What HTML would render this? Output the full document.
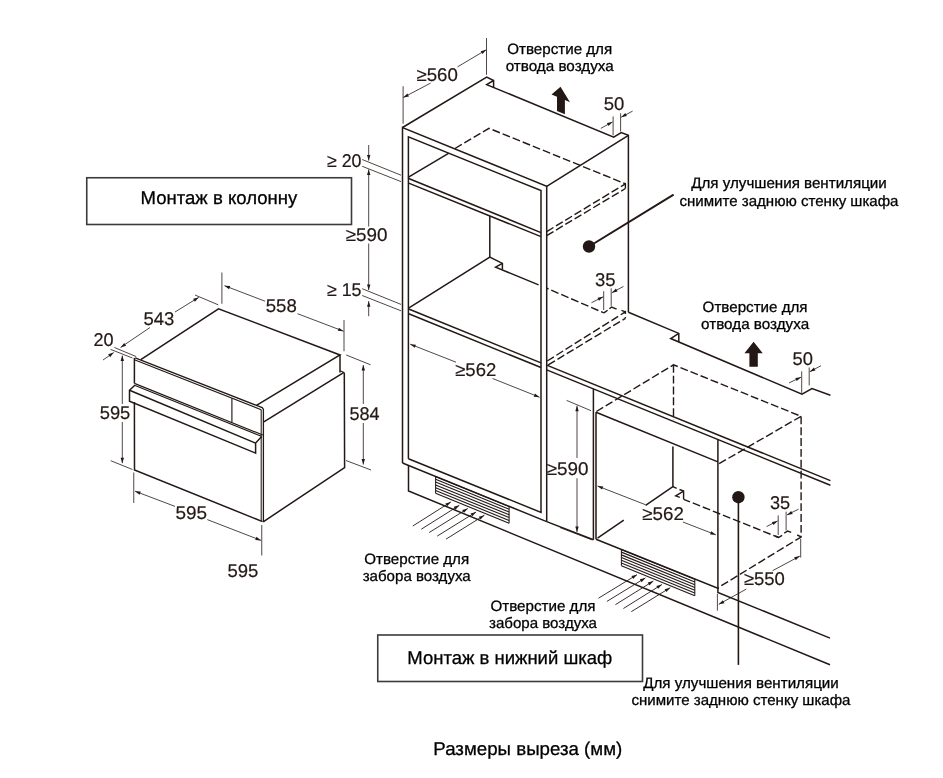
<!DOCTYPE html>
<html lang="ru"><head><meta charset="utf-8"><title>Размеры выреза (мм)</title>
<style>
html,body{margin:0;padding:0;background:#fff}
svg{display:block;will-change:transform}
text{text-rendering:geometricPrecision}
.m{fill:none;stroke:#231815;stroke-width:1.5;stroke-linecap:butt;stroke-linejoin:miter}
.m2{fill:none;stroke:#231815;stroke-width:1.3;stroke-linejoin:round}
.m3{fill:none;stroke:#231815;stroke-width:1.15}
.k{fill:none;stroke:#231815;stroke-width:2.2}
.g{fill:none;stroke:#231815;stroke-width:1.05}
.t{fill:none;stroke:#231815;stroke-width:0.8}
.t2{fill:none;stroke:#231815;stroke-width:0.9}
.g2{fill:none;stroke:#231815;stroke-width:1.1}
.d{fill:none;stroke:#231815;stroke-width:1.4;stroke-dasharray:7.9 2.95}
.d2{fill:none;stroke:#231815;stroke-width:1.4}
.h{fill:#231815;stroke:none}
.b{fill:#fff;stroke:#3e3a39;stroke-width:1.6}
text{font-family:"Liberation Sans",sans-serif}
.n{fill:#231815;stroke:#231815;stroke-width:0.2}
.r{fill:#000;stroke:#000;stroke-width:0.28}
</style></head><body>
<svg width="943" height="778" viewBox="0 0 943 778">
<rect width="943" height="778" fill="#fff"/>
<rect class="b" x="86.75" y="177.75" width="264.75" height="46.75"/>
<rect class="b" x="377.75" y="635" width="264.75" height="46.5"/>
<text class="r" x="140.5" y="204.0" font-size="18.5" text-anchor="start" textLength="156.8" lengthAdjust="spacingAndGlyphs">Монтаж в колонну</text>
<text class="r" x="407.3" y="663.8" font-size="18.5" text-anchor="start" textLength="205.0" lengthAdjust="spacingAndGlyphs">Монтаж в нижний шкаф</text>
<text class="r" x="433.3" y="754.5" font-size="18.5" text-anchor="start" textLength="189.0" lengthAdjust="spacingAndGlyphs">Размеры выреза (мм)</text>
<text class="r" x="559.7" y="53.8" font-size="15" text-anchor="middle" textLength="105.0" lengthAdjust="spacingAndGlyphs">Отверстие для</text>
<text class="r" x="559.7" y="71.4" font-size="15" text-anchor="middle" textLength="108.0" lengthAdjust="spacingAndGlyphs">отвода воздуха</text>
<text class="r" x="755.1" y="312.3" font-size="15" text-anchor="middle" textLength="105.0" lengthAdjust="spacingAndGlyphs">Отверстие для</text>
<text class="r" x="755.1" y="329.0" font-size="15" text-anchor="middle" textLength="108.0" lengthAdjust="spacingAndGlyphs">отвода воздуха</text>
<text class="r" x="416.7" y="563.8" font-size="15" text-anchor="middle" textLength="105.0" lengthAdjust="spacingAndGlyphs">Отверстие для</text>
<text class="r" x="416.7" y="580.6" font-size="15" text-anchor="middle" textLength="108.0" lengthAdjust="spacingAndGlyphs">забора воздуха</text>
<text class="r" x="543.0" y="611.1" font-size="15" text-anchor="middle" textLength="105.0" lengthAdjust="spacingAndGlyphs">Отверстие для</text>
<text class="r" x="543.0" y="628.3" font-size="15" text-anchor="middle" textLength="108.0" lengthAdjust="spacingAndGlyphs">забора воздуха</text>
<text class="r" x="789.0" y="188.0" font-size="15" text-anchor="middle" textLength="195.5" lengthAdjust="spacingAndGlyphs">Для улучшения вентиляции</text>
<text class="r" x="789.0" y="205.5" font-size="15" text-anchor="middle" textLength="219.0" lengthAdjust="spacingAndGlyphs">снимите заднюю стенку шкафа</text>
<text class="r" x="741.0" y="688.3" font-size="15" text-anchor="middle" textLength="195.5" lengthAdjust="spacingAndGlyphs">Для улучшения вентиляции</text>
<text class="r" x="741.0" y="704.5" font-size="15" text-anchor="middle" textLength="219.0" lengthAdjust="spacingAndGlyphs">снимите заднюю стенку шкафа</text>
<path class="m2" d="M135.20 357.80 L256.50 405.40 L262.30 407.70 L263.40 409.30 L263.40 522.00"/>
<path class="m3" d="M134.40 359.70 L261.20 409.70"/>
<path class="m" d="M134.40 357.90 L134.40 383.40"/>
<path class="m" d="M134.40 402.00 L134.50 470.00 L262.50 521.60"/>
<path class="g" d="M261.20 409.70 L261.20 521.00"/>
<path class="m3" d="M134.40 383.40 L262.80 435.00"/>
<path class="m3" d="M135.10 385.50 L261.50 436.30"/>
<path class="m3" d="M231.90 398.20 L231.90 422.40"/>
<path class="m" d="M135.10 385.00 L129.50 390.30 L129.50 401.30 L255.60 453.10 L255.60 443.10 L261.70 436.40"/>
<path class="m" d="M129.50 390.30 L255.60 443.10"/>
<path class="m" d="M140.80 359.60 L218.50 308.80 L340.00 355.00 L256.50 405.40"/>
<path class="m" d="M340.00 355.00 L340.00 372.40"/>
<path class="g" d="M340.00 370.80 L344.00 372.60"/>
<path class="m" d="M344.00 372.40 L263.80 421.90"/>
<path class="m" d="M344.30 372.40 L344.60 467.50 L263.20 521.80"/>
<path class="t" d="M150.00 327.50 L120.60 347.40"/>
<path class="h" d="M120.60 347.40 L124.20 342.91 L126.11 345.72Z"/>
<path class="t" d="M175.00 312.00 L198.70 297.40"/>
<path class="h" d="M198.70 297.40 L194.91 301.73 L193.13 298.84Z"/>
<path class="t" d="M195.00 295.00 L218.20 304.80"/>
<path class="t" d="M110.60 349.40 L132.50 358.00"/>
<path class="t" d="M114.40 347.50 L136.20 356.60"/>
<path class="t" d="M103.00 360.00 L113.70 352.60"/>
<path class="h" d="M113.70 352.60 L110.14 357.13 L108.21 354.33Z"/>
<path class="t" d="M221.90 272.50 L221.90 303.80"/>
<path class="t" d="M265.00 301.20 L224.50 285.70"/>
<path class="h" d="M224.50 285.70 L230.24 286.08 L229.03 289.25Z"/>
<path class="t" d="M297.50 313.70 L343.50 331.20"/>
<path class="h" d="M343.50 331.20 L337.75 330.83 L338.96 327.66Z"/>
<path class="t" d="M344.00 320.00 L344.00 351.20"/>
<path class="t" d="M122.30 404.00 L122.30 355.60"/>
<path class="h" d="M122.30 355.60 L124.00 361.10 L120.60 361.10Z"/>
<path class="t" d="M122.30 422.00 L122.30 463.20"/>
<path class="h" d="M122.30 463.20 L120.60 457.70 L124.00 457.70Z"/>
<path class="t" d="M110.70 460.70 L132.50 469.50"/>
<path class="t" d="M133.75 472.50 L133.75 503.00"/>
<path class="t" d="M261.75 525.00 L261.75 555.50"/>
<path class="t" d="M175.00 506.40 L135.00 491.20"/>
<path class="h" d="M135.00 491.20 L140.75 491.56 L139.54 494.74Z"/>
<path class="t" d="M207.30 519.60 L261.00 540.40"/>
<path class="h" d="M261.00 540.40 L255.26 540.00 L256.49 536.83Z"/>
<path class="t" d="M363.30 404.00 L363.30 365.00"/>
<path class="h" d="M363.30 365.00 L365.00 370.50 L361.60 370.50Z"/>
<path class="t" d="M363.30 423.00 L363.30 464.50"/>
<path class="h" d="M363.30 464.50 L361.60 459.00 L365.00 459.00Z"/>
<path class="t" d="M346.20 355.00 L370.60 364.80"/>
<path class="t" d="M346.00 460.50 L371.00 470.00"/>
<text class="n" x="143.4" y="325.0" font-size="18.5" text-anchor="start" textLength="30.9" lengthAdjust="spacingAndGlyphs">543</text>
<text class="n" x="93.4" y="345.5" font-size="18.5" text-anchor="start" textLength="20.1" lengthAdjust="spacingAndGlyphs">20</text>
<text class="n" x="265.7" y="311.7" font-size="18.5" text-anchor="start" textLength="31.1" lengthAdjust="spacingAndGlyphs">558</text>
<text class="n" x="99.7" y="419.2" font-size="18.5" text-anchor="start" textLength="30.6" lengthAdjust="spacingAndGlyphs">595</text>
<text class="n" x="175.4" y="518.8" font-size="18.5" text-anchor="start" textLength="31.6" lengthAdjust="spacingAndGlyphs">595</text>
<text class="n" x="227.4" y="576.7" font-size="18.5" text-anchor="start" textLength="30.9" lengthAdjust="spacingAndGlyphs">595</text>
<text class="n" x="349.4" y="419.9" font-size="18.5" text-anchor="start" textLength="30.1" lengthAdjust="spacingAndGlyphs">584</text>
<path class="m" d="M402.50 463.00 L402.50 127.50 L546.70 186.30 L546.70 521.60"/>
<path class="m" d="M402.50 463.00 L546.70 521.60"/>
<path class="m" d="M408.40 458.70 L408.40 136.90 L541.00 190.60 L541.00 512.40 L408.40 458.70"/>
<path class="m" d="M402.50 127.50 L486.70 77.00 L493.60 80.50 L493.60 87.40"/>
<path class="m" d="M493.60 80.50 L486.70 84.60 L613.70 137.20 L621.20 132.50 L628.40 135.30 L628.40 312.20"/>
<path class="m" d="M546.70 186.30 L628.40 135.30"/>
<path class="m" d="M408.10 178.20 L541.00 232.60"/>
<path class="m" d="M408.10 182.90 L541.00 236.60"/>
<path class="m" d="M408.10 177.40 L448.50 153.40"/>
<path class="m" d="M489.80 215.90 L489.80 257.20"/>
<path class="m" d="M408.60 308.20 L489.80 257.20 L502.40 263.40 L502.40 269.60"/>
<path class="m" d="M502.40 263.40 L495.60 267.20 L538.60 284.90"/>
<path class="m" d="M408.10 308.80 L541.00 362.86"/>
<path class="m" d="M408.10 313.50 L541.00 367.56"/>
<path class="m" d="M546.70 365.18 L830.40 480.59"/>
<path class="m" d="M546.70 369.88 L830.40 485.29"/>
<path class="m" d="M408.50 465.40 L408.50 490.90 L830.00 664.80"/>
<path class="g2" d="M435.60 476.50 L509.10 506.40"/>
<path class="g2" d="M435.60 479.30 L509.10 509.20"/>
<path class="g2" d="M435.60 482.10 L509.10 512.00"/>
<path class="g2" d="M435.60 484.90 L509.10 514.80"/>
<path class="g2" d="M435.60 487.70 L509.10 517.60"/>
<path class="g2" d="M435.60 490.50 L509.10 520.40"/>
<path class="g2" d="M435.60 493.30 L509.10 523.20"/>
<path class="g" d="M435.60 476.50 L435.60 493.30"/>
<path class="g" d="M509.10 506.40 L509.10 523.20"/>
<path class="g2" d="M621.40 549.40 L694.80 579.26"/>
<path class="g2" d="M621.40 552.13 L694.80 581.99"/>
<path class="g2" d="M621.40 554.87 L694.80 584.73"/>
<path class="g2" d="M621.40 557.60 L694.80 587.46"/>
<path class="g2" d="M621.40 560.33 L694.80 590.19"/>
<path class="g2" d="M621.40 563.07 L694.80 592.93"/>
<path class="g2" d="M621.40 565.80 L694.80 595.66"/>
<path class="g" d="M621.40 549.40 L621.40 565.80"/>
<path class="g" d="M694.80 579.26 L694.80 595.66"/>
<path class="t2" d="M412.80 526.00 L450.90 501.90"/>
<path class="h" d="M450.90 501.90 L447.16 506.28 L445.34 503.40Z"/>
<path class="t2" d="M421.30 529.20 L459.30 505.30"/>
<path class="h" d="M459.30 505.30 L455.55 509.67 L453.74 506.79Z"/>
<path class="t2" d="M429.20 532.50 L467.80 508.50"/>
<path class="h" d="M467.80 508.50 L464.03 512.85 L462.23 509.96Z"/>
<path class="t2" d="M437.20 536.10 L476.10 512.00"/>
<path class="h" d="M476.10 512.00 L472.32 516.34 L470.53 513.45Z"/>
<path class="t2" d="M446.10 539.10 L484.40 515.20"/>
<path class="h" d="M484.40 515.20 L480.63 519.55 L478.83 516.67Z"/>
<path class="t2" d="M598.50 598.20 L637.00 574.70"/>
<path class="h" d="M637.00 574.70 L633.19 579.02 L631.42 576.11Z"/>
<path class="t2" d="M606.90 601.40 L645.40 577.90"/>
<path class="h" d="M645.40 577.90 L641.59 582.22 L639.82 579.31Z"/>
<path class="t2" d="M615.40 604.70 L653.30 581.10"/>
<path class="h" d="M653.30 581.10 L649.53 585.45 L647.73 582.56Z"/>
<path class="t2" d="M623.40 608.50 L661.90 584.50"/>
<path class="h" d="M661.90 584.50 L658.13 588.85 L656.33 585.97Z"/>
<path class="t2" d="M631.30 611.70 L670.20 587.70"/>
<path class="h" d="M670.20 587.70 L666.41 592.03 L664.63 589.14Z"/>
<path class="d" d="M455.00 148.50 L489.00 128.30 L625.40 183.80 L625.40 188.50"/>
<path class="d" d="M546.70 231.60 L625.40 183.80"/>
<path class="d" d="M546.70 235.60 L625.40 188.50"/>
<path class="d" d="M603.90 312.90 L546.70 288.20" stroke-dashoffset="4.8"/>
<path class="d2" d="M603.90 312.90 L607.60 310.20"/>
<path class="d2" d="M609.40 308.70 L611.60 307.00 L616.60 309.10"/>
<path class="d2" d="M621.50 310.30 L625.40 311.80"/>
<path class="d" d="M547.20 361.00 L625.40 311.80 L625.40 318.30"/>
<path class="d" d="M548.20 364.90 L625.40 318.30"/>
<path class="t" d="M403.10 86.20 L403.10 123.70"/>
<path class="t" d="M486.50 38.00 L486.50 74.80"/>
<path class="t" d="M430.60 83.10 L403.30 97.50"/>
<path class="h" d="M403.30 97.50 L407.37 93.43 L408.96 96.44Z"/>
<path class="t" d="M457.50 66.90 L486.30 49.80"/>
<path class="h" d="M486.30 49.80 L482.44 54.07 L480.70 51.15Z"/>
<text class="n" x="416.4" y="80.5" font-size="18.5" text-anchor="start" textLength="41.4" lengthAdjust="spacingAndGlyphs">≥560</text>
<path class="t" d="M613.10 116.40 L613.10 135.30"/>
<path class="t" d="M620.60 113.30 L620.60 131.50"/>
<path class="t" d="M600.80 128.40 L612.50 121.90"/>
<path class="h" d="M612.50 121.90 L608.52 126.06 L606.87 123.08Z"/>
<path class="t" d="M632.60 111.10 L621.20 117.20"/>
<path class="h" d="M621.20 117.20 L625.25 113.11 L626.85 116.10Z"/>
<text class="n" x="603.7" y="110.2" font-size="18.5" text-anchor="start" textLength="20.6" lengthAdjust="spacingAndGlyphs">50</text>
<path class="t" d="M362.20 159.50 L401.00 175.20"/>
<path class="t" d="M362.20 166.30 L401.00 181.60"/>
<path class="t" d="M368.70 145.00 L368.70 160.60"/>
<path class="h" d="M368.70 160.60 L367.00 155.10 L370.40 155.10Z"/>
<path class="t" d="M368.70 185.00 L368.70 169.50"/>
<path class="h" d="M368.70 169.50 L370.40 175.00 L367.00 175.00Z"/>
<path class="t" d="M368.70 185.00 L368.70 226.50"/>
<path class="t" d="M368.70 243.50 L368.70 290.00"/>
<path class="h" d="M368.70 290.00 L367.00 284.50 L370.40 284.50Z"/>
<path class="t" d="M362.20 288.70 L401.00 304.40"/>
<path class="t" d="M362.20 295.50 L401.00 310.80"/>
<path class="t" d="M368.70 316.20 L368.70 301.20"/>
<path class="h" d="M368.70 301.20 L370.40 306.70 L367.00 306.70Z"/>
<text class="n" x="326.9" y="166.7" font-size="18.5" text-anchor="start" textLength="34.6" lengthAdjust="spacingAndGlyphs">≥ 20</text>
<text class="n" x="345.7" y="240.5" font-size="18.5" text-anchor="start" textLength="41.8" lengthAdjust="spacingAndGlyphs">≥590</text>
<text class="n" x="326.9" y="296.2" font-size="18.5" text-anchor="start" textLength="34.6" lengthAdjust="spacingAndGlyphs">≥ 15</text>
<path class="t" d="M456.00 362.20 L410.20 344.20"/>
<path class="h" d="M410.20 344.20 L415.94 344.63 L414.70 347.79Z"/>
<path class="t" d="M492.60 378.50 L539.50 397.20"/>
<path class="h" d="M539.50 397.20 L533.76 396.74 L535.02 393.58Z"/>
<text class="n" x="455.2" y="376.1" font-size="18.5" text-anchor="start" textLength="41.1" lengthAdjust="spacingAndGlyphs">≥562</text>
<path class="t" d="M603.70 291.20 L603.70 310.00"/>
<path class="t" d="M611.20 288.30 L611.20 305.90"/>
<path class="t" d="M591.50 302.70 L603.20 296.80"/>
<path class="h" d="M603.20 296.80 L599.05 300.79 L597.52 297.76Z"/>
<path class="t" d="M623.50 286.40 L611.90 292.70"/>
<path class="h" d="M611.90 292.70 L615.92 288.58 L617.54 291.57Z"/>
<text class="n" x="594.9" y="285.5" font-size="18.5" text-anchor="start" textLength="20.6" lengthAdjust="spacingAndGlyphs">35</text>
<circle cx="589" cy="246.5" r="6.2" fill="#231815"/>
<path class="k" d="M589.00 246.50 L673.60 194.70" style="stroke-width:2"/>
<path class="h" d="M560.50 86.80 L570.00 102.14 L564.90 100.05 L564.90 114.20 L557.00 110.97 L557.00 96.81 L551.50 94.56Z"/>
<path class="h" d="M753.60 341.70 L762.75 353.20 L757.80 353.20 L757.80 366.70 L749.40 366.70 L749.40 353.20 L744.45 353.20Z"/>
<path class="m" d="M628.40 312.20 L678.80 333.40 L678.80 341.90"/>
<path class="m" d="M678.80 333.40 L670.70 338.50 L802.00 394.20 L812.00 388.60 L830.40 395.30"/>
<path class="m" d="M593.40 388.90 L593.40 539.80"/>
<path class="m" d="M596.00 412.20 L596.00 539.20"/>
<path class="m" d="M546.70 521.60 L593.40 539.80"/>
<path class="m" d="M596.00 412.20 L717.90 461.90"/>
<path class="m" d="M717.90 439.60 L717.90 589.00"/>
<path class="m" d="M672.90 446.50 L672.90 486.70 L645.60 505.30"/>
<path class="m" d="M623.80 520.20 L597.50 538.20"/>
<path class="m" d="M596.00 539.20 L717.90 588.30 L717.90 592.40 L830.00 638.10"/>
<path class="d" d="M596.40 411.50 L673.50 364.80 L801.10 416.30 L801.10 537.00 L718.20 587.60"/>
<path class="d" d="M673.50 364.80 L673.50 419.20"/>
<path class="d" d="M801.10 416.30 L718.20 464.20"/>
<path class="d2" d="M672.90 486.70 L676.70 488.30"/>
<path class="d2" d="M679.50 489.50 L683.60 491.10 L683.60 499.30"/>
<path class="d2" d="M683.60 491.10 L675.70 495.80 L679.80 497.40"/>
<path class="d" d="M683.60 499.30 L778.60 537.50" stroke-dashoffset="1"/>
<path class="d2" d="M775.10 536.00 L778.60 537.50 L782.10 535.30"/>
<path class="d2" d="M784.30 533.20 L787.70 531.00 L791.20 532.40"/>
<path class="d2" d="M797.20 535.00 L801.00 536.80"/>
<path class="t" d="M566.60 400.40 L591.00 410.70"/>
<path class="t" d="M560.00 527.60 L591.90 539.80"/>
<path class="t" d="M577.00 458.00 L577.00 405.80"/>
<path class="h" d="M577.00 405.80 L578.70 411.30 L575.30 411.30Z"/>
<path class="t" d="M577.00 478.30 L577.00 532.00"/>
<path class="h" d="M577.00 532.00 L575.30 526.50 L578.70 526.50Z"/>
<text class="n" x="546.7" y="475.1" font-size="18.5" text-anchor="start" textLength="41.8" lengthAdjust="spacingAndGlyphs">≥590</text>
<path class="t" d="M645.40 504.70 L597.50 486.00"/>
<path class="h" d="M597.50 486.00 L603.24 486.42 L602.01 489.58Z"/>
<path class="t" d="M682.90 522.00 L715.80 534.80"/>
<path class="h" d="M715.80 534.80 L710.06 534.39 L711.29 531.22Z"/>
<text class="n" x="642.3" y="519.7" font-size="18.5" text-anchor="start" textLength="41.6" lengthAdjust="spacingAndGlyphs">≥562</text>
<path class="t" d="M778.20 515.40 L778.20 535.00"/>
<path class="t" d="M786.10 511.60 L786.10 530.40"/>
<path class="t" d="M766.60 526.60 L777.60 520.90"/>
<path class="h" d="M777.60 520.90 L773.50 524.94 L771.93 521.92Z"/>
<path class="t" d="M798.50 509.20 L787.00 514.90"/>
<path class="h" d="M787.00 514.90 L791.17 510.93 L792.68 513.98Z"/>
<text class="n" x="769.9" y="508.7" font-size="18.5" text-anchor="start" textLength="20.2" lengthAdjust="spacingAndGlyphs">35</text>
<path class="t" d="M801.70 371.30 L801.70 392.90"/>
<path class="t" d="M809.20 367.50 L809.20 385.40"/>
<path class="t" d="M789.10 382.90 L801.00 377.20"/>
<path class="h" d="M801.00 377.20 L796.77 381.11 L795.31 378.04Z"/>
<path class="t" d="M821.00 365.70 L809.80 371.70"/>
<path class="h" d="M809.80 371.70 L813.85 367.60 L815.45 370.60Z"/>
<text class="n" x="792.5" y="365.1" font-size="18.5" text-anchor="start" textLength="20.4" lengthAdjust="spacingAndGlyphs">50</text>
<path class="t" d="M800.70 538.80 L800.70 557.60"/>
<path class="t" d="M717.40 593.80 L717.40 610.70"/>
<path class="t" d="M772.60 570.70 L799.80 556.10"/>
<path class="h" d="M799.80 556.10 L795.76 560.20 L794.15 557.20Z"/>
<path class="t" d="M746.30 589.10 L718.80 604.30"/>
<path class="h" d="M718.80 604.30 L722.79 600.15 L724.44 603.13Z"/>
<text class="n" x="743.9" y="585.4" font-size="18.5" text-anchor="start" textLength="41.0" lengthAdjust="spacingAndGlyphs">≥550</text>
<circle cx="738.4" cy="497.2" r="6.2" fill="#231815"/>
<path class="k" d="M738.40 497.20 L738.40 664.90" style="stroke-width:1.6"/>
</svg>
</body></html>
